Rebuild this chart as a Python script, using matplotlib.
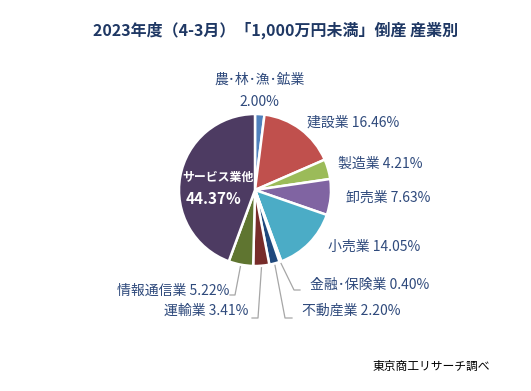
import numpy as np
import matplotlib
matplotlib.use("Agg")
import matplotlib.pyplot as plt

plt.rcParams['font.family'] = ['Noto Sans CJK JP', 'DejaVu Sans']

categories = ["農･林･漁･鉱業", "建設業", "製造業", "卸売業", "小売業",
              "金融･保険業", "不動産業", "運輸業", "情報通信業", "サービス業他"]
shares = [2.00, 16.46, 4.21, 7.63, 14.05, 0.40, 2.20, 3.41, 5.22, 44.37]
colors = ["#4F81BD", "#C0504D", "#9BBB59", "#8064A2", "#4BACC6",
          "#F79646", "#1F497D", "#772C2A", "#5F7530", "#4D3B62"]
title = "2023年度（4-3月）「1,000万円未満」倒産 産業別"
source = "東京商工リサーチ調べ"

W, H = 531, 391
fig = plt.figure(figsize=(W / 100, H / 100), dpi=100)
ax = fig.add_axes([0, 0, 1, 1])

def Y(yp):
    return H - yp

cx, cy, R = 255, Y(190), 76
wedges, _ = ax.pie(shares, colors=colors, startangle=90, counterclock=False,
                   center=(cx, cy), radius=R,
                   wedgeprops=dict(edgecolor="white", linewidth=1.8))
ax.set_xlim(0, W)
ax.set_ylim(0, H)
ax.set_aspect("equal")
ax.axis("off")

lab_color = "#2F4A7C"
fs = 10

def lab(i):
    return f"{categories[i]} {shares[i]:.2f}%"

# title
ax.text(276, Y(30), title, ha="center", va="center", fontsize=11.5,
        fontweight="bold", color="#1F3864")

# top label (two lines)
ax.text(260, Y(80), categories[0], ha="center", va="center", fontsize=fs, color=lab_color)
ax.text(259, Y(102), f"{shares[0]:.2f}%", ha="center", va="center", fontsize=fs, color=lab_color)

# right side labels
right = {1: (307, 123), 2: (338, 164), 3: (346, 198), 4: (328, 247),
         5: (310, 285), 6: (302, 311)}
for i, (x, y) in right.items():
    ax.text(x, Y(y), lab(i), ha="left", va="center", fontsize=fs, color=lab_color)

left = {7: (248, 311), 8: (229, 291)}
for i, (x, y) in left.items():
    ax.text(x, Y(y), lab(i), ha="right", va="center", fontsize=fs, color=lab_color)

# inside label
ax.text(218, Y(177), categories[9], ha="center", va="center", fontsize=8.6,
        fontweight="bold", color="white")
ax.text(214, Y(199), f"{shares[9]:.2f}%", ha="center", va="center", fontsize=11,
        fontweight="bold", color="white")

# leader lines
elbows = {5: ((294, 290), (300, 290)), 6: ((285, 318), (292, 318)),
          7: ((258, 318), (252, 318)), 8: ((235, 295), (230, 295))}
for i, (p1, p2) in elbows.items():
    w = wedges[i]
    a = np.deg2rad((w.theta1 + w.theta2) / 2)
    x0 = cx + (R + 2) * np.cos(a)
    y0 = cy + (R + 2) * np.sin(a)
    ax.plot([x0, p1[0], p2[0]], [y0, Y(p1[1]), Y(p2[1])], color="#A6A6A6", lw=0.9)

ax.text(373, Y(366), source, ha="left", va="center", fontsize=8.5, color="black")

fig.savefig("out.png", dpi=100)
